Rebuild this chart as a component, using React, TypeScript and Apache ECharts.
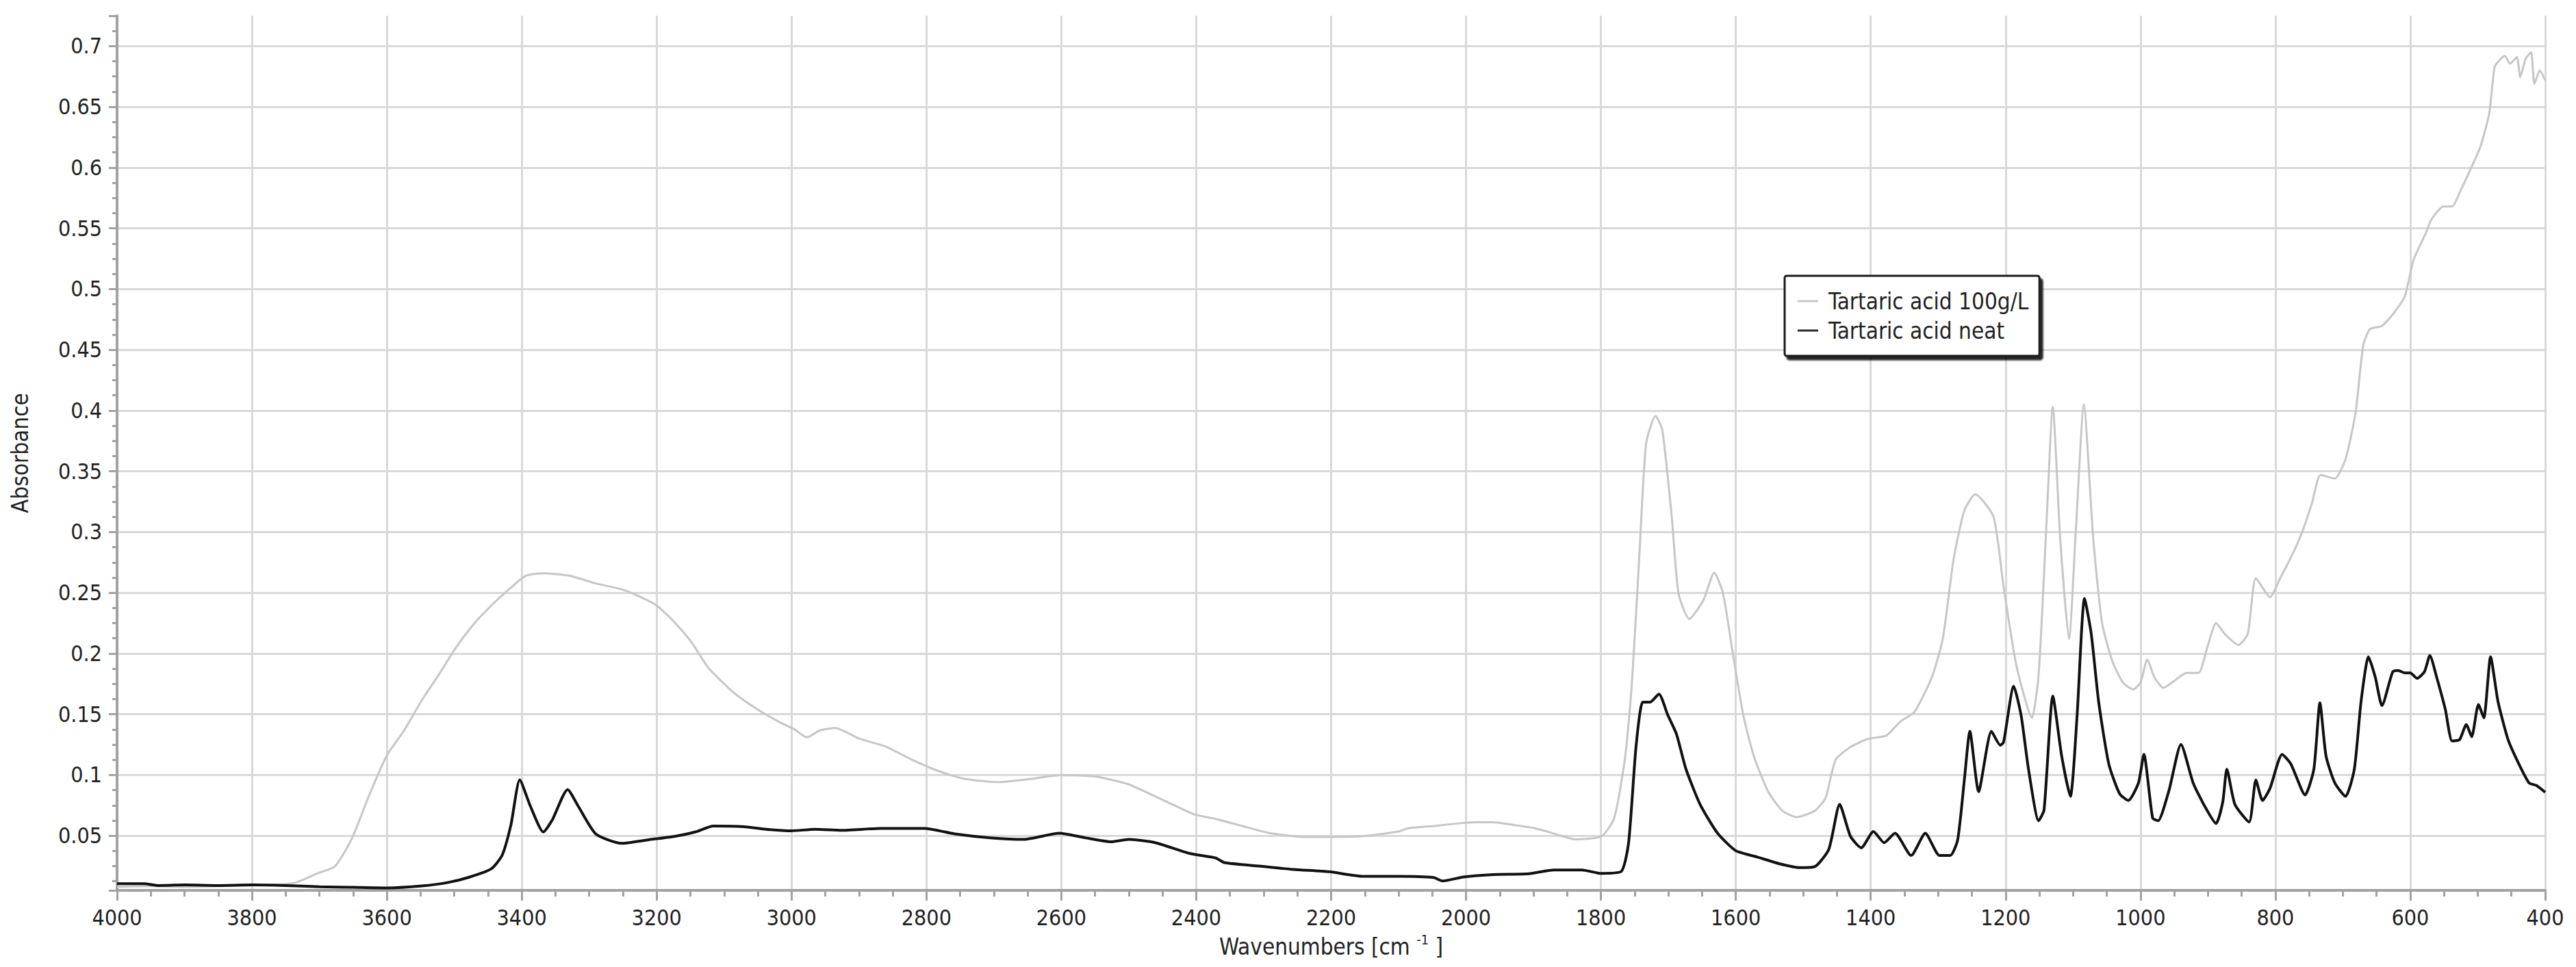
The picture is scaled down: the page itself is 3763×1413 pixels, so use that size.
import React, { useEffect, useRef } from "react";
import * as echarts from "echarts";

// Wavenumbers (cm-1) and absorbance, "Tartaric acid 100g/L" (light grey trace)
const wnDilute = [
  4000, 3950, 3900, 3850, 3800, 3770, 3735, 3703, 3677, 3652, 3626, 3600, 3574, 3548, 3523, 3497,
  3471, 3445, 3419, 3394, 3368, 3329, 3290, 3252, 3226, 3200, 3174, 3148, 3123, 3084, 3045, 3016,
  2997, 2977, 2958, 2935, 2900, 2861, 2823, 2784, 2745, 2694, 2642, 2603, 2552, 2500, 2448, 2403,
  2371, 2332, 2294, 2242, 2200, 2152, 2100, 2087, 2048, 2013, 1987, 1960, 1928, 1897, 1865, 1838,
  1799, 1780, 1764, 1754, 1743, 1733, 1719, 1709, 1695, 1685, 1669, 1648, 1632, 1619, 1605, 1589,
  1573, 1552, 1531, 1510, 1483, 1467, 1452, 1430, 1404, 1377, 1356, 1335, 1309, 1293, 1277, 1261,
  1245, 1218, 1203, 1184, 1161, 1151, 1140, 1130, 1119, 1106, 1096, 1084, 1070, 1057, 1042, 1026,
  1011, 1000, 990, 979, 966, 948, 932, 914, 901, 888, 875, 855, 841, 829, 808, 792,
  777, 761, 746, 733, 712, 696, 681, 670, 660, 642, 624, 608, 595, 577, 569, 551,
  538, 525, 509, 496, 483, 475, 468, 460, 452, 442, 437, 429, 421, 416, 408, 400,
];
const absDilute = [
  0.008, 0.0085, 0.008, 0.0085, 0.009, 0.0095, 0.0114, 0.019, 0.0247, 0.0475, 0.0836, 0.116, 0.137, 0.1616, 0.1825, 0.2053,
  0.2243, 0.2395, 0.2528, 0.264, 0.266, 0.264, 0.2576, 0.2528, 0.247, 0.2395, 0.226, 0.209, 0.188, 0.167, 0.152, 0.143,
  0.138, 0.131, 0.1367, 0.1386, 0.13, 0.1235, 0.113, 0.1036, 0.097, 0.0941, 0.097, 0.0998, 0.0989, 0.0922, 0.079, 0.0676,
  0.0638, 0.058, 0.0525, 0.049, 0.049, 0.0496, 0.0534, 0.056, 0.058, 0.06, 0.061, 0.061, 0.0587, 0.056, 0.051, 0.047,
  0.0495, 0.065, 0.115, 0.176, 0.281, 0.373, 0.3955, 0.384, 0.3126, 0.2495, 0.2284, 0.244, 0.2666, 0.2495, 0.202, 0.1495,
  0.115, 0.0863, 0.0705, 0.0653, 0.0705, 0.081, 0.1126, 0.123, 0.1297, 0.1324, 0.144, 0.152, 0.181, 0.2126, 0.278, 0.318,
  0.331, 0.3126, 0.255, 0.19, 0.147, 0.183, 0.3, 0.403, 0.294, 0.212, 0.3, 0.405, 0.294, 0.225, 0.194, 0.176,
  0.1705, 0.176, 0.195, 0.18, 0.1717, 0.1783, 0.184, 0.184, 0.205, 0.225, 0.216, 0.207, 0.216, 0.262, 0.2464, 0.263,
  0.279, 0.299, 0.3234, 0.347, 0.344, 0.36, 0.3986, 0.453, 0.467, 0.4697, 0.4806, 0.4943, 0.5243, 0.546, 0.557, 0.568,
  0.568, 0.5817, 0.6008, 0.6172, 0.6445, 0.6828, 0.6882, 0.692, 0.6855, 0.691, 0.6746, 0.6896, 0.695, 0.669, 0.68, 0.6718,
];

// Wavenumbers (cm-1) and absorbance, "Tartaric acid neat" (black trace)
const wnNeat = [
  4000, 3960, 3940, 3900, 3850, 3800, 3750, 3700, 3650, 3600, 3548, 3510, 3477, 3445, 3429, 3416,
  3403, 3387, 3368, 3355, 3332, 3316, 3290, 3252, 3213, 3174, 3142, 3116, 3071, 3032, 3000, 2965,
  2926, 2868, 2803, 2758, 2706, 2655, 2603, 2565, 2526, 2500, 2461, 2410, 2371, 2358, 2306, 2255,
  2203, 2152, 2100, 2048, 2035, 2004, 1960, 1907, 1870, 1828, 1801, 1770, 1759, 1748, 1738, 1727,
  1714, 1701, 1688, 1674, 1653, 1627, 1600, 1568, 1536, 1505, 1483, 1462, 1446, 1430, 1414, 1396,
  1380, 1364, 1340, 1319, 1298, 1282, 1271, 1261, 1253, 1240, 1221, 1208, 1203, 1188, 1177, 1166,
  1151, 1143, 1130, 1117, 1104, 1094, 1083, 1073, 1062, 1047, 1031, 1018, 1003, 995, 982, 974,
  958, 940, 922, 904, 888, 878, 872, 860, 839, 829, 819, 808, 790, 777, 756, 743,
  734, 725, 712, 696, 683, 673, 662, 652, 642, 626, 618, 608, 600, 590, 579, 571,
  561, 548, 538, 527, 517, 509, 499, 491, 481, 470, 455, 439, 424, 413, 400,
];
const absNeat = [
  0.0105, 0.0105, 0.009, 0.0095, 0.009, 0.0095, 0.009, 0.008, 0.0075, 0.007, 0.0086, 0.0114, 0.016, 0.0228, 0.034, 0.059,
  0.096, 0.074, 0.053, 0.0627, 0.088, 0.074, 0.0513, 0.0437, 0.0466, 0.0494, 0.0532, 0.058, 0.0574, 0.055, 0.054, 0.0553,
  0.0544, 0.056, 0.056, 0.0515, 0.0483, 0.047, 0.052, 0.0483, 0.045, 0.047, 0.0443, 0.0354, 0.0316, 0.0278, 0.025, 0.0222,
  0.0203, 0.0165, 0.0165, 0.0155, 0.0127, 0.016, 0.018, 0.0187, 0.0218, 0.0218, 0.019, 0.0205, 0.044, 0.123, 0.16, 0.16,
  0.1666, 0.1495, 0.1337, 0.105, 0.0758, 0.052, 0.0376, 0.0324, 0.027, 0.0237, 0.0245, 0.039, 0.0758, 0.0495, 0.04, 0.0534,
  0.0442, 0.052, 0.0337, 0.052, 0.0337, 0.0337, 0.0468, 0.0968, 0.136, 0.0863, 0.136, 0.1245, 0.127, 0.173, 0.149, 0.1045,
  0.0623, 0.0712, 0.165, 0.116, 0.0824, 0.149, 0.2453, 0.216, 0.16, 0.109, 0.0846, 0.079, 0.0935, 0.117, 0.0645, 0.0623,
  0.0868, 0.1252, 0.0935, 0.0734, 0.06, 0.0779, 0.1047, 0.0757, 0.0612, 0.0958, 0.079, 0.089, 0.117, 0.109, 0.0835, 0.1047,
  0.1594, 0.1158, 0.0935, 0.0824, 0.1047, 0.1605, 0.1973, 0.1806, 0.1571, 0.185, 0.186, 0.184, 0.184, 0.1795, 0.185, 0.1984,
  0.1806, 0.1538, 0.128, 0.129, 0.1415, 0.1315, 0.158, 0.147, 0.1973, 0.1605, 0.129, 0.109, 0.0935, 0.0913, 0.0857,
];

const seriesNames = ["Tartaric acid 100g/L", "Tartaric acid neat"];
const xMin = 400;
const xMax = 4000;
const xStep = 200;
const yMin = 0.005;
const yMax = 0.725;

const FONT = "'DejaVu Sans Condensed', 'Liberation Sans', 'DejaVu Sans', sans-serif";
const AXIS_COLOR = "#a2a2a2";
const GRID_COLOR = "#d9d9d9";
const TEXT_COLOR = "#222";

export default function App() {
  const ref = useRef<HTMLDivElement>(null);

  useEffect(() => {
    if (!ref.current) return;
    const chart = echarts.init(ref.current, null, { renderer: "svg" });
    const diluteData = wnDilute.map((w, i) => [w, absDilute[i]]);
    const neatData = wnNeat.map((w, i) => [w, absNeat[i]]);

    chart.setOption({
      animation: false,
      backgroundColor: "#ffffff",
      textStyle: { fontFamily: FONT },
      grid: { left: 171, right: 45, top: 23, bottom: 112, containLabel: false },
      legend: {
        show: true,
        orient: "vertical",
        left: 2607,
        top: 403,
        selectedMode: false,
        icon: "rect",
        itemWidth: 30,
        itemHeight: 3,
        itemGap: 3,
        padding: [17, 16, 17, 19],
        backgroundColor: "#ffffff",
        borderColor: "#1a1a1a",
        borderWidth: 3,
        borderRadius: 3,
        shadowColor: "rgba(0,0,0,0.85)",
        shadowBlur: 2,
        shadowOffsetX: 4,
        shadowOffsetY: 5,
        textStyle: {
          fontFamily: FONT,
          fontSize: 33,
          color: TEXT_COLOR,
          lineHeight: 40,
          padding: [0, 0, 0, 10],
        },
        data: seriesNames,
      },
      xAxis: {
        type: "value",
        inverse: true,
        min: xMin,
        max: xMax,
        interval: xStep,
        name: "Wavenumbers [cm {sup|-1} ]",
        nameLocation: "middle",
        nameGap: 62,
        nameTextStyle: {
          fontFamily: FONT,
          fontSize: 33,
          color: TEXT_COLOR,
          lineHeight: 40,
          rich: {
            sup: { fontFamily: FONT, fontSize: 20, color: TEXT_COLOR, verticalAlign: "top", lineHeight: 24 },
          },
        },
        axisLine: { show: true, lineStyle: { color: AXIS_COLOR, width: 4 } },
        axisTick: { show: true, length: 15, lineStyle: { color: AXIS_COLOR, width: 3 } },
        minorTick: { show: true, splitNumber: 4, length: 9, lineStyle: { color: AXIS_COLOR, width: 3 } },
        axisLabel: {
          fontFamily: FONT,
          fontSize: 32,
          color: TEXT_COLOR,
          margin: 24,
          formatter: (v: number) => String(v),
        },
        splitLine: { show: true, lineStyle: { color: GRID_COLOR, width: 3 } },
      },
      yAxis: {
        type: "value",
        min: yMin,
        max: yMax,
        splitNumber: 14,
        name: "Absorbance",
        nameLocation: "middle",
        nameGap: 125,
        nameRotate: 90,
        nameTextStyle: { fontFamily: FONT, fontSize: 33, color: TEXT_COLOR },
        axisLine: { show: true, lineStyle: { color: AXIS_COLOR, width: 4 } },
        axisTick: { show: true, length: 12, lineStyle: { color: AXIS_COLOR, width: 3 } },
        minorTick: { show: true, splitNumber: 4, length: 7, lineStyle: { color: AXIS_COLOR, width: 3 } },
        axisLabel: {
          fontFamily: FONT,
          fontSize: 32,
          color: TEXT_COLOR,
          margin: 22,
          showMinLabel: false,
          showMaxLabel: false,
        },
        splitLine: { show: true, showMinLine: false, showMaxLine: false, lineStyle: { color: GRID_COLOR, width: 3 } },
      },
      series: [
        {
          name: seriesNames[0],
          type: "line",
          data: diluteData,
          showSymbol: false,
          symbol: "none",
          smooth: 0.2,
          lineStyle: { color: "#c6c6c6", width: 3 },
          itemStyle: { color: "#c6c6c6" },
          z: 2,
        },
        {
          name: seriesNames[1],
          type: "line",
          data: neatData,
          showSymbol: false,
          symbol: "none",
          smooth: 0.2,
          lineStyle: { color: "#111111", width: 4 },
          itemStyle: { color: "#2a2a2a" },
          z: 3,
        },
      ],
    });

    return () => {
      chart.dispose();
    };
  }, []);

  return (
    <div
      ref={ref}
      style={{ position: "absolute", left: 0, top: 0, width: 3763, height: 1413, background: "#fff" }}
    />
  );
}
